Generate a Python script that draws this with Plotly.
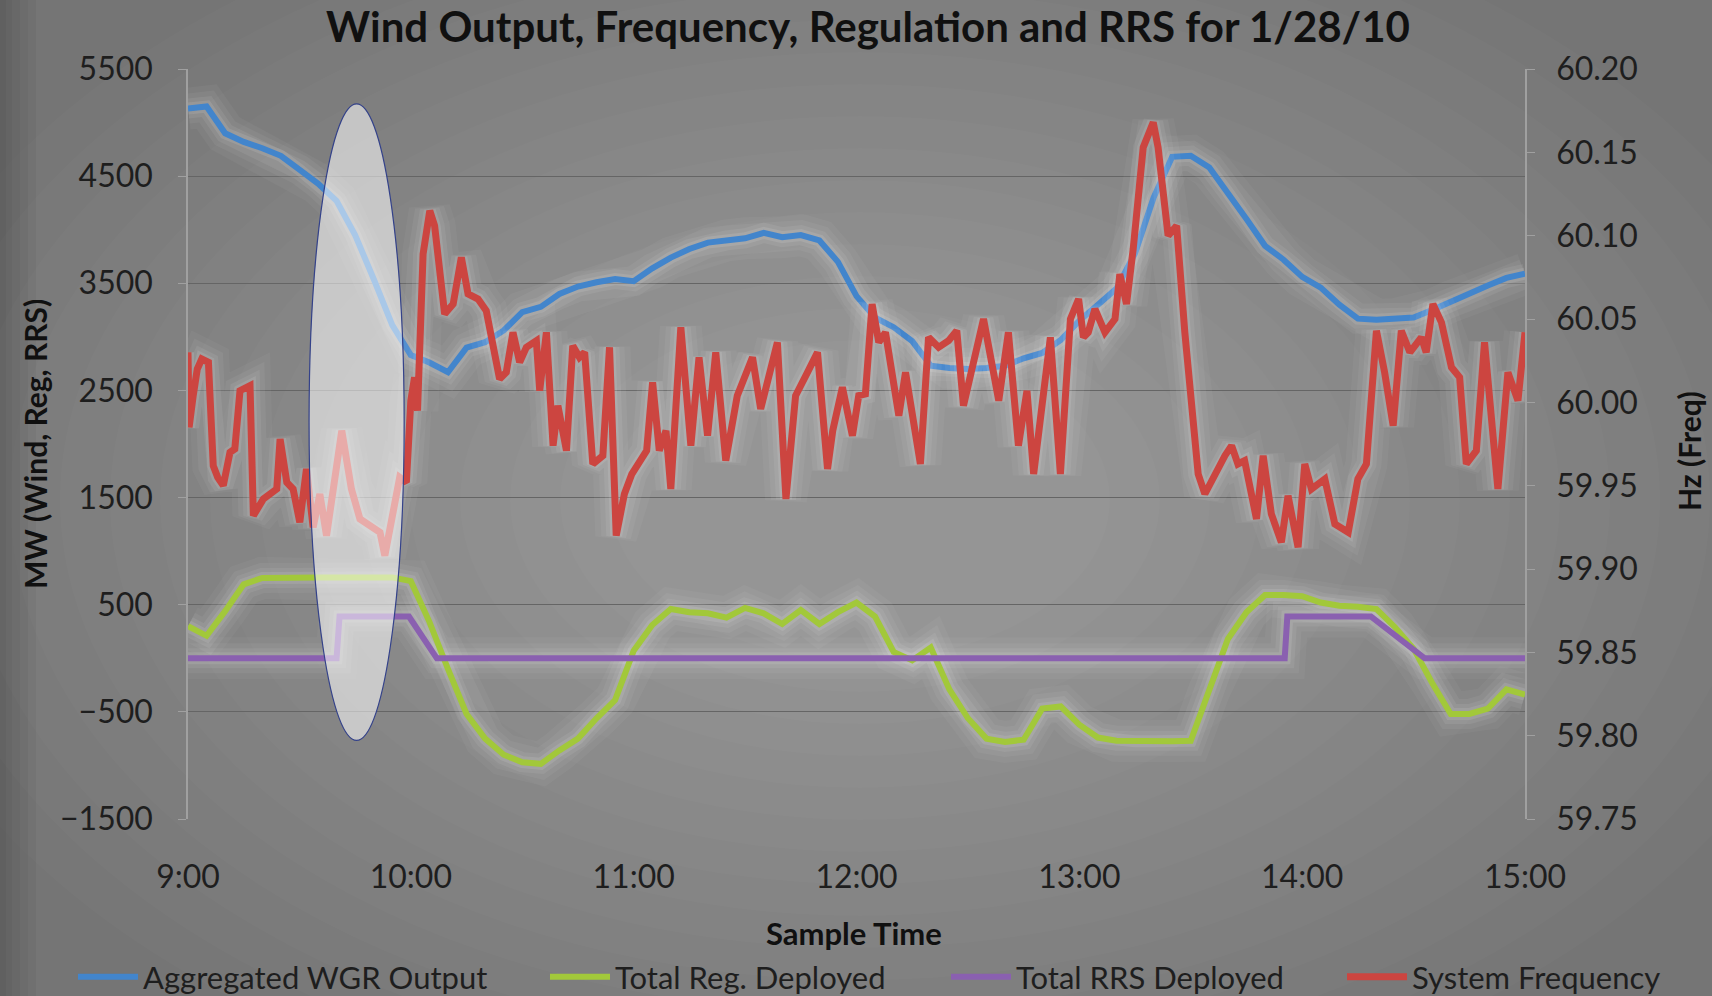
import plotly.graph_objects as go
import pandas as pd

day = pd.Timestamp("2010-01-28 09:00")

# wind output and regulation, read every 5 minutes from 9:00 to 15:00 (MW)
wind_mw = [5130, 5150, 4900, 4820, 4760, 4690, 4560, 4430, 4270, 3950, 3540, 3110,
           2830, 2760, 2670, 2900, 2950, 3060, 3230, 3280, 3400, 3470, 3510, 3540,
           3520, 3640, 3740, 3820, 3880, 3900, 3920, 3970, 3930, 3950, 3900, 3700,
           3380, 3180, 3090, 2960, 2730, 2710, 2700, 2710, 2730, 2800, 2850, 2970,
           3150, 3300, 3450, 3780, 4300, 4680, 4690, 4580, 4350, 4100, 3850, 3720,
           3560, 3460, 3300, 3170, 3160, 3165, 3180, 3250, 3330, 3400, 3480, 3550,
           3590]
reg_mw = [300, 210, 440, 690, 750, 755, 755, 755, 755, 755, 755, 755,
          720, 340, -100, -520, -750, -900, -970, -985, -860, -750, -560, -390,
          70, 310, 460, 430, 420, 380, 470, 420, 320, 450, 320, 430,
          520, 390, 60, -20, 100, -290, -560, -750, -780, -760, -470, -450,
          -620, -740, -770, -775, -775, -775, -770, -300, 180, 430, 590, 590,
          580, 520, 490, 480, 460, 290, 90, -230, -520, -520, -470, -290,
          -340]

# responsive reserve: breakpoints (minutes after 9:00, MW)
rrs_minutes = [0, 40, 40.8, 59.5, 67, 295.3, 296, 318.5, 333, 360]
rrs_mw = [0, 0, 390, 390, 0, 0, 390, 390, 0, 0]

# system frequency: turning points (minutes after 9:00, Hz)
freq_minutes = [0, 0.3, 1.4, 2.5, 3.7, 5.5, 6.8, 8.0, 9.5, 11.3, 12.6, 14.0, 16.7, 17.6,
                20.3, 23.9, 24.8, 26.6, 28.3, 30.1, 31.9, 33.7, 35.5, 37.3, 41.4, 44.0,
                46.3, 49.9, 51.7, 53.0, 57.0, 58.8, 60.0, 61.0, 61.8, 63.3, 65.1, 66.4,
                69.1, 71.4, 73.6, 75.4, 78.1, 80.3, 81.7, 83.9, 85.7, 87.5, 89.3, 91.1,
                93.8, 94.7, 96.5, 98.3, 99.6, 101.9, 103.6, 105.4, 106.8, 109.0, 111.7,
                113.5, 115.3, 117.5, 119.5, 121.5, 123.5, 125.1, 126.9, 128.7, 130.0,
                132.7, 135.4, 137.6, 139.9, 142.1, 144.8, 147.9, 152.0, 154.2, 158.7,
                161.0, 163.6, 166.8, 169.5, 172.2, 173.6, 176.2, 178.9, 180.6, 182.4,
                184.2, 186.0, 187.8, 191.4, 193.2, 194.5, 197.2, 199.4, 202.1, 204.8,
                207.0, 208.8, 214.2, 218.3, 220.9, 223.6, 225.9, 227.7, 232.2, 234.9,
                237.6, 239.8, 241.1, 242.4, 244.2, 246.9, 249.6, 250.9, 252.7, 254.5,
                257.2, 259.9, 261.2, 263.9, 266.2, 268.4, 270.2, 272.0, 273.8, 276.5,
                279.2, 281.0, 282.7, 284.5, 287.7, 289.5, 291.7, 294.4, 296.2, 298.9,
                300.7, 302.5, 306.1, 308.8, 312.4, 315.0, 317.3, 320.0, 322.2, 324.5,
                326.7, 329.0, 332.1, 333.4, 335.2, 337.5, 340.2, 342.4, 344.2, 346.9,
                349.1, 352.7, 355.4, 358.1, 360.0]
freq_hz = [60.030, 59.985, 60.004, 60.020, 60.026, 60.024, 59.962, 59.955, 59.950, 59.970,
           59.972, 60.007, 60.010, 59.932, 59.942, 59.948, 59.978, 59.952, 59.948, 59.928,
           59.960, 59.925, 59.945, 59.920, 59.983, 59.948, 59.930, 59.924, 59.922, 59.908,
           59.955, 59.952, 60.001, 60.015, 59.995, 60.089, 60.115, 60.106, 60.053, 60.059,
           60.087, 60.065, 60.062, 60.055, 60.039, 60.014, 60.018, 60.042, 60.024, 60.033,
           60.037, 60.007, 60.042, 59.974, 59.998, 59.971, 60.034, 60.027, 60.030, 59.963,
           59.968, 60.033, 59.920, 59.945, 59.957, 59.965, 59.971, 60.012, 59.971, 59.983,
           59.948, 60.045, 59.974, 60.027, 59.980, 60.030, 59.965, 60.004, 60.027, 59.996,
           60.036, 59.942, 60.004, 60.018, 60.030, 59.960, 59.983, 60.009, 59.980, 60.004,
           60.005, 60.059, 60.036, 60.042, 59.992, 60.018, 60.001, 59.963, 60.039, 60.033,
           60.037, 60.043, 59.998, 60.050, 60.001, 60.042, 59.974, 60.007, 59.957, 60.039,
           59.957, 60.050, 60.062, 60.039, 60.042, 60.056, 60.042, 60.050, 60.077, 60.059,
           60.092, 60.153, 60.168, 60.153, 60.100, 60.106, 60.042, 59.995, 59.957, 59.945,
           59.957, 59.968, 59.974, 59.963, 59.965, 59.930, 59.968, 59.933, 59.916, 59.944,
           59.913, 59.963, 59.948, 59.954, 59.927, 59.922, 59.954, 59.963, 60.043, 60.018,
           59.986, 60.043, 60.030, 60.039, 60.030, 60.059, 60.048, 60.021, 60.015, 59.963,
           59.971, 60.036, 59.948, 60.018, 60.001, 60.042]

five_min = pd.date_range(day, periods=len(wind_mw), freq="5min")
rrs_time = day + pd.to_timedelta(rrs_minutes, unit="m")
freq_time = day + pd.to_timedelta(freq_minutes, unit="m")

series = [
    ("Aggregated WGR Output", five_min, wind_mw, "#4285cc", "y", 6),
    ("Total Reg. Deployed", five_min, reg_mw, "#a2c83a", "y", 6),
    ("Total RRS Deployed", rrs_time, rrs_mw, "#8a60b0", "y", 6),
    ("System Frequency", freq_time, freq_hz, "#cc4540", "y2", 7),
]

fig = go.Figure()

# soft white glow under every line
for name, x, y, color, axis, w in series:
    for gw, ga in [(42, 0.04), (30, 0.05), (20, 0.07), (12, 0.10)]:
        fig.add_trace(go.Scatter(x=x, y=y, yaxis=axis, mode="lines", showlegend=False,
                                 hoverinfo="skip",
                                 line=dict(color=f"rgba(255,255,255,{ga})", width=gw)))

legend_ids = ["legend", "legend2", "legend3", "legend4"]
for (name, x, y, color, axis, w), lg in zip(series, legend_ids):
    fig.add_trace(go.Scatter(x=x, y=y, yaxis=axis, name=name, mode="lines", legend=lg,
                             line=dict(color=color, width=w)))

W, H = 1712, 996
L, R, T, B = 188, 1525, 69, 819


def px(xp, yp):
    return (xp - L) / (R - L), (B - yp) / (B - T)


# background vignette
shapes = []
for i in range(16):
    rx, ry = 1000 - i * 50, 640 - i * 32
    x0, y0 = px(860 - rx, 500 + ry)
    x1, y1 = px(860 + rx, 500 - ry)
    shapes.append(dict(type="circle", xref="paper", yref="paper", layer="below",
                       x0=x0, y0=y0, x1=x1, y1=y1, line=dict(width=0),
                       fillcolor="rgba(255,255,255,0.018)"))
for wpx in [36, 28, 20, 12, 6]:
    x0, y0 = px(0, H)
    x1, y1 = px(wpx, 0)
    shapes.append(dict(type="rect", xref="paper", yref="paper", layer="below",
                       x0=x0, y0=y0, x1=x1, y1=y1, line=dict(width=0),
                       fillcolor="rgba(0,0,0,0.035)"))
# highlight ellipse
shapes.append(dict(type="circle", xref="x", yref="y", layer="above",
                   x0=day + pd.Timedelta(minutes=32.6), x1=day + pd.Timedelta(minutes=58.2),
                   y0=-767, y1=5174, fillcolor="rgba(255,255,255,0.55)",
                   line=dict(color="#34428a", width=1.2)))

font = "Lato, Open Sans, sans-serif"
ink = "#1e1e1e"
bold_ink = "#101010"

annotations = []
ax, ay = px(35, 444)
annotations.append(dict(text="MW (Wind, Reg, RRS)", x=ax, y=ay, xref="paper", yref="paper",
                        xanchor="center", yanchor="middle", textangle=-90, showarrow=False,
                        font=dict(size=30, weight="bold", color=bold_ink)))
ax, ay = px(1689, 451)
annotations.append(dict(text="Hz (Freq)", x=ax, y=ay, xref="paper", yref="paper",
                        xanchor="center", yanchor="middle", textangle=-90, showarrow=False,
                        font=dict(size=30, weight="bold", color=bold_ink)))
ax, ay = px(854, 933)
annotations.append(dict(text="Sample Time", x=ax, y=ay, xref="paper", yref="paper",
                        xanchor="center", yanchor="middle", showarrow=False,
                        font=dict(size=31, weight="bold", color=bold_ink)))

legend_style = dict(orientation="h", xref="container", yref="container", xanchor="left",
                    y=1 - 977 / H, yanchor="middle", itemwidth=60,
                    font=dict(size=31, color=ink), bgcolor="rgba(0,0,0,0)")
legend_x = [73, 545, 946, 1342]

fig.update_layout(
    width=W, height=H,
    margin=dict(l=L, r=W - R, t=T, b=H - B, autoexpand=False),
    paper_bgcolor="#757575",
    plot_bgcolor="rgba(0,0,0,0)",
    font=dict(family=font, size=32, color=ink),
    title=dict(text="Wind Output, Frequency, Regulation and RRS for 1/28/10",
               x=868 / W, xanchor="center", y=1 - 27 / H, yanchor="middle",
               font=dict(size=42, weight="bold", color=bold_ink)),
    shapes=shapes,
    annotations=annotations,
    showlegend=True,
    xaxis=dict(type="date", range=[day, day + pd.Timedelta(hours=6)],
               dtick=3600000, tickformat="%-H:%M", showgrid=False, zeroline=False,
               showline=False, ticks="", ticklabelstandoff=36, automargin=False),
    yaxis=dict(range=[-1500, 5500], tick0=500, dtick=1000, showgrid=True,
               gridcolor="#656565", gridwidth=1, zeroline=False, showline=True,
               linecolor="#a0a0a0", linewidth=1.5, ticks="outside", ticklen=8,
               tickcolor="#a0a0a0", ticklabelstandoff=19, automargin=False),
    yaxis2=dict(range=[59.75, 60.20], dtick=0.05, tickformat=".2f", overlaying="y",
                side="right", showgrid=False, zeroline=False, showline=True,
                linecolor="#a0a0a0", linewidth=1.5, ticks="outside", ticklen=8,
                tickcolor="#a0a0a0", ticklabelstandoff=15, automargin=False),
)
for lg, lx in zip(legend_ids, legend_x):
    fig.update_layout({lg: dict(legend_style, x=lx / W)})

fig.write_html("out.html", config={"displayModeBar": False},
               post_script="document.body.style.margin='0';document.body.style.overflow='hidden';")
